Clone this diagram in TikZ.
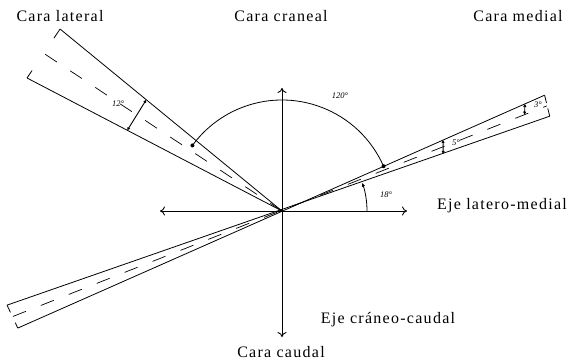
\documentclass[tikz,border=0pt]{standalone}
\usepackage{fontspec}
\setmainfont{Liberation Serif}
\usetikzlibrary{arrows.meta,calc}
\begin{document}
\begin{tikzpicture}[x=1pt,y=1pt,line width=0.8pt,
  lbl/.style={font=\fontsize{16}{18}\selectfont\addfontfeatures{LetterSpace=8}, inner sep=0pt},
  ang/.style={font=\fontsize{8.5}{10}\selectfont\itshape, inner sep=0pt},
  axisline/.style={line width=0.9pt},
  tip/.style={-{To[length=5pt,width=9pt]}},
  edgeline/.style={line width=0.8pt},
  cline/.style={line width=0.7pt, dash pattern=on 14pt off 16pt},
  barline/.style={line width=0.9pt, {Latex[length=3pt,width=3.5pt]}-{Latex[length=3pt,width=3.5pt]}},
  dotend/.style={circle, fill, inner sep=0pt, minimum size=4pt}
]
\useasboundingbox (-282,-151) rectangle (291,211);
% origin and axes
\coordinate (O) at (0,0);
\coordinate (xl) at (-122,0);
\coordinate (xr) at (125,0);
\coordinate (yt) at (0,123);
\coordinate (yb) at (0,-126);
\draw[axisline,tip] (O) -- (xl);
\draw[axisline,tip] (O) -- (xr);
\draw[axisline,tip] (O) -- (yt);
\draw[axisline,tip] (O) -- (yb);
% medial wedge (through origin)
\coordinate (A1) at (23.8:287);
\coordinate (A2) at (203.9:289);
\coordinate (B1) at (19.5:284);
\coordinate (B2) at (198.9:290.6);
\coordinate (C1) at (21.65:285);
\coordinate (C2) at (201.4:289);
\draw[edgeline] (A2) -- (A1);
\draw[edgeline] (B2) -- (B1);
\draw[cline] (C2) -- (C1);
\draw[edgeline] (A1) -- ($(A1)!8pt!(B1)$);
\draw[edgeline] (B1) -- ($(B1)!8pt!(A1)$);
\draw[edgeline] (B2) -- ($(B2)!8pt!(A2)$);
\draw[edgeline] (A2) -- ($(A2)!6pt!(B2)$);
% lateral wedge
\coordinate (L1) at (140.65:287);
\coordinate (L2) at (152.45:287.6);
\coordinate (LC) at (146.5:284);
\draw[edgeline] (O) -- (L1);
\draw[edgeline] (O) -- (L2);
\draw[cline] (O) -- (LC);
\draw[edgeline] (L1) -- ($(L1)!11pt!(L2)$);
\draw[edgeline] (L2) -- ($(L2)!9pt!(L1)$);
% measuring bars
\coordinate (b12a) at (140.65:175.5);
\coordinate (b12b) at (152.45:174.5);
\draw[barline] (b12a) -- (b12b);
\coordinate (b5a) at (23.8:176);
\coordinate (b5b) at (19.5:171);
\draw[barline] (b5a) -- (b5b);
\coordinate (b3a) at (23.8:265.5);
\coordinate (b3b) at (21.65:261);
\draw[barline] (b3a) -- (b3b);
% 120 degree arc
\coordinate (r1) at (23.8:111);
\coordinate (r2) at (143.8:111);
\draw[edgeline] (r1) arc[start angle=23.8, end angle=143.8, radius=111];
\node[dotend] (d1) at (r1) {};
\node[dotend] (d2) at (r2) {};
% 18 degree arc
\coordinate (s1) at (0:85);
\draw[edgeline,-{Latex[length=4pt,width=3.5pt]}] (s1) arc[start angle=0, end angle=19.5, radius=85];
% labels
\node[lbl] (clat) at (-222,195) {Cara lateral};
\node[lbl] (ccra) at (-1,195) {Cara craneal};
\node[lbl] (cmed) at (236,195) {Cara medial};
\node[lbl] (elm) at (220,5) {Eje latero-medial};
\node[lbl] (ecc) at (106,-109) {Eje cráneo-caudal};
\node[lbl] (ccau) at (-1,-141) {Cara caudal};
\node[ang] (a120) at (58,115) {120°};
\node[ang] (a18) at (104,16) {18°};
\node[ang] (a12) at (-164,107) {12°};
\node[ang] (a5) at (174,68) {5°};
\node[ang] (a3) at (256,106) {3°};
\end{tikzpicture}
\end{document}
